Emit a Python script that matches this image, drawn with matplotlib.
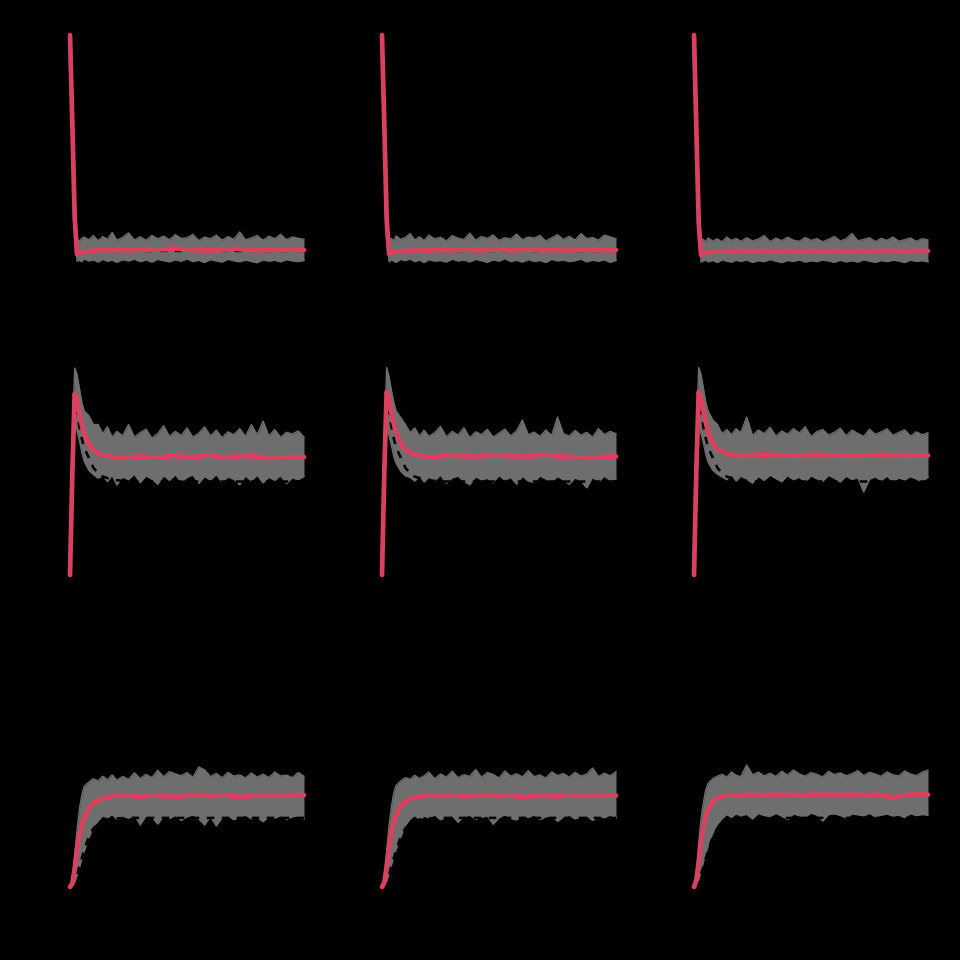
import numpy as np
import matplotlib
matplotlib.use("Agg")
import matplotlib.pyplot as plt

# time points for the grey simulation envelope
t_band = [0, 1, 2, 3, 4, 5, 6, 8, 10, 12, 14, 16, 18, 20,
          22.5, 25, 27.5, 30, 32.5, 35, 37.5, 40,
          42.5, 45, 47.5, 50, 52.5, 55, 57.5, 60,
          62.5, 65, 67.5, 70, 72.5, 75, 77.5, 80,
          82.5, 85, 87.5, 90, 92.5, 95, 97.5, 100]

# time points for the mean / model lines
t_mean = [0, 1, 2, 3, 4, 5, 6, 8, 10, 13,
          16, 20, 25, 30, 35, 40, 45, 50, 55,
          60, 65, 70, 75, 80, 85, 90, 95, 100]

# ---- row 1 ----
r1c1_upper = [100, 68, 28, 10.5, 9.6, 10.8, 11.4, 10.2, 12.0, 9.8, 11.6, 10.4, 13.4, 10.0,
              11.2, 13.2, 10.1, 11.5, 9.9, 12.1, 10.6, 11.8,
              10.2, 12.4, 10.8, 11.0, 12.6, 9.8, 11.4, 10.6,
              12.2, 10.0, 11.6, 10.4, 13.6, 10.2, 11.0, 12.0,
              10.0, 11.8, 10.6, 12.6, 10.2, 11.4, 10.8, 10.4]
r1c1_lower = [100, 55, 14, 0.8, 1.2, 0.6, 1.8, 0.9, 1.4, 0.4, 1.6, 0.8, 1.2, 0.3,
              1.5, 0.9, 1.7, 0.6, 1.3, 0.4, 1.6, 1.0,
              0.5, 1.4, 0.8, 1.8, 0.6, 1.2, 0.2, 1.5,
              0.9, 0.4, 1.6, 1.0, 0.5, 1.3, 0.7, 0.1,
              1.4, 0.8, 1.2, 0.5, 1.5, 0.9, 0.6, 1.1]
r1c1_mean = [100, 61, 20, 3.9, 4.3, 4.7, 5.0, 5.2, 5.4, 5.6,
             5.6, 5.7, 5.6, 5.7, 5.9, 6.0, 6.4, 5.8, 5.6,
             5.5, 5.7, 6.3, 5.8, 5.6, 5.7, 5.8, 5.7, 5.7]

r1c2_upper = [100, 67, 27, 10.2, 10.8, 9.6, 11.9, 10.4, 11.2, 12.9, 10.1, 11.5, 9.8, 12.2,
              10.6, 11.3, 9.7, 12.0, 10.9, 10.3, 13.1, 10.0,
              11.6, 10.8, 12.3, 9.9, 11.1, 10.5, 12.7, 10.2,
              11.4, 10.9, 12.1, 9.6, 11.0, 12.4, 10.3, 11.7,
              10.1, 12.9, 10.7, 11.2, 10.0, 12.2, 11.5, 10.6]
r1c2_lower = [100, 54, 13, 0.5, 1.4, 0.9, 0.3, 1.6, 1.0, 1.8, 0.6, 1.3, 0.2, 1.5,
              0.8, 1.1, 0.4, 1.7, 0.9, 1.3, 0.5, 1.6,
              1.0, 0.3, 1.4, 0.8, 1.9, 0.6, 1.2, 0.4,
              1.5, 0.7, 1.1, 0.2, 1.6, 0.9, 1.3, 0.6,
              1.0, 1.7, 0.5, 1.2, 0.8, 1.4, 0.3, 1.1]
r1c2_mean = [100, 60, 19, 4.0, 4.4, 4.8, 5.0, 5.2, 5.3, 5.5,
             5.6, 5.5, 5.7, 5.6, 5.8, 5.6, 5.7, 5.9, 5.6,
             5.7, 5.8, 5.6, 5.7, 5.5, 5.8, 5.7, 5.6, 5.7]

r1c3_upper = [100, 66, 26, 9.8, 10.4, 9.2, 11.0, 9.6, 10.6, 9.3, 11.4, 9.9, 10.8, 9.5,
              11.1, 9.7, 10.5, 12.0, 9.4, 10.9, 9.8, 11.3,
              10.0, 9.5, 11.2, 9.9, 10.7, 9.3, 10.4, 11.6,
              9.7, 10.6, 13.0, 9.8, 10.3, 11.1, 9.4, 10.8,
              9.9, 11.4, 9.6, 10.2, 11.0, 9.5, 10.7, 10.1]
r1c3_lower = [100, 53, 12, 0.4, 0.9, 1.3, 0.5, 1.1, 0.2, 1.4, 0.8, 0.4, 1.2, 0.7,
              1.3, 0.3, 1.0, 0.6, 1.5, 0.8, 0.2, 1.1,
              0.7, 1.4, 0.4, 1.0, 0.6, 1.3, 0.9, 0.3,
              1.2, 0.5, 1.0, 0.4, 1.4, 0.8, 0.3, 1.1,
              0.6, 1.2, 0.9, 0.2, 1.3, 0.7, 1.0, 0.5]
r1c3_mean = [100, 59, 18, 3.6, 4.0, 4.4, 4.7, 4.9, 5.0, 5.2,
             5.2, 5.3, 5.2, 5.3, 5.2, 5.3, 5.2, 5.3, 5.2,
             5.3, 5.2, 5.3, 5.2, 5.3, 5.3, 5.2, 5.3, 5.3]

r1_model = [100, 60, 18, 4.8, 5.0, 5.1, 5.2, 5.2, 5.3, 5.3,
            5.3, 5.3, 5.3, 5.3, 5.3, 5.3, 5.3, 5.3, 5.3,
            5.3, 5.3, 5.3, 5.3, 5.3, 5.3, 5.3, 5.3, 5.3]

# ---- row 2 ----
r2c1_upper = [0, 60, 90.8, 88, 82, 76, 72, 70, 66, 66, 62, 65, 60.5, 63,
              61, 66, 60.5, 62.5, 64, 60, 62, 65.5,
              60.8, 63, 61.2, 64.5, 60.5, 62.2, 65, 61,
              63.5, 60.2, 62.8, 61.5, 64.2, 60.8, 66, 61.5,
              67.5, 61, 63.8, 60.4, 62.6, 61.8, 63.2, 60.5]
r2c1_lower = [0, 30, 68, 63, 59, 54, 50, 46, 44, 42.5, 43.5, 41, 43.8, 39.5,
              43, 41.8, 44.2, 40.5, 43.5, 42, 39.8, 43.6,
              41.5, 44, 40.8, 42.8, 43.9, 40.2, 43.2, 41.6,
              44.1, 40.6, 43, 42, 39.6, 43.5, 41.2, 43.8,
              40.4, 42.9, 41.5, 43.6, 40.1, 42.6, 41.8, 43.2]
r2c1_mean = [0, 45, 79.5, 77, 71, 66, 62, 57.5, 54.8, 53,
             52.2, 51.3, 51.6, 52.0, 51.5, 51.8, 52.3, 51.6, 51.9,
             52.4, 51.7, 51.8, 52.3, 51.9, 51.6, 51.5, 51.8, 51.7]

r2c2_upper = [0, 62, 91, 87, 81, 76, 72, 69, 66, 62.5, 64.5, 61, 63.5, 60.8,
              62.4, 65.2, 60.6, 63, 61.4, 64.6, 60.2, 62.8,
              61.6, 63.9, 60.5, 62.2, 64, 61, 63.2, 68,
              61.5, 62.7, 60.8, 63.6, 61.2, 69.3, 62, 60.9,
              63.4, 61.3, 62.6, 60.4, 64.2, 61.6, 63, 62]
r2c2_lower = [0, 28, 66, 61, 57, 52, 49, 45.5, 43.5, 42.8, 41.2, 43.6, 40.8, 42.9,
              41.4, 43.8, 40.2, 42.6, 43.4, 41, 39.6, 43.1,
              41.8, 42.4, 40.4, 43.7, 41.6, 42.8, 39.9, 43.3,
              41.2, 40.6, 43.5, 42.1, 40.9, 43.2, 41.7, 39.8,
              42.6, 41.3, 38.2, 42.9, 40.7, 43.4, 41.5, 42.2]
r2c2_mean = [0, 46, 80.3, 77.5, 71.5, 66.5, 62.5, 57.8, 55, 53.2,
             52.4, 51.6, 52.0, 52.3, 52.1, 51.8, 52.2, 52.4, 52.0,
             51.9, 52.1, 52.5, 52.0, 51.8, 51.6, 51.4, 51.9, 52.0]

r2c3_upper = [0, 61, 91, 88, 82, 76, 72, 68, 66, 62, 63.8, 61.5, 64.2, 62.4,
              69.3, 61.2, 63.6, 62, 64.8, 60.9, 63.1, 61.8,
              64.2, 62.3, 65, 60.7, 62.9, 63.8, 61.4, 62.6,
              64.4, 61, 63.5, 62.1, 60.8, 63.9, 61.7, 62.8,
              64.1, 61.2, 62.5, 63.7, 60.9, 62.8, 61.5, 62.4]
r2c3_lower = [0, 29, 67, 62, 58, 53, 49.5, 46, 44.2, 43, 41.8, 43.9, 41.2, 43.4,
              42, 40.3, 43.2, 41.5, 43.8, 42.3, 40.9, 43.6,
              41.8, 42.9, 40.6, 43.5, 42.2, 41.1, 43.7, 42.4,
              40.8, 43.3, 41.9, 42.7, 36.4, 42, 43.1, 41.4,
              43.4, 40.9, 42.6, 41.7, 43.2, 42.1, 40.8, 42.9]
r2c3_mean = [0, 46, 80.3, 77.5, 72, 67, 63, 58, 55.3, 53.5,
             52.8, 52.2, 52.6, 52.8, 52.6, 52.5, 52.4, 52.7, 52.6,
             52.5, 52.4, 52.3, 52.5, 52.7, 52.6, 52.4, 52.5, 52.4]

r2_model = [0, 45, 79.5, 72, 65, 60, 56, 51.5, 47, 43.5,
            42.5, 41.6, 41.0, 41.0, 41.0, 41.0, 41.0, 41.0, 41.0,
            41.0, 41.0, 41.0, 41.0, 41.0, 41.0, 41.0, 41.0, 41.0]

# ---- row 3 ----
r3c1_upper = [0, 4, 14, 25, 34, 40, 44, 46, 47.5, 46.5, 48.6, 47, 49.2, 46.8,
              48.5, 47.2, 50.1, 47.6, 49.4, 48, 51.2, 48.3,
              50.6, 49.6, 48.8, 50.2, 48.1, 52.6, 51.4, 48.4,
              49.8, 47.9, 50.3, 48.6, 49.2, 47.8, 50, 48.2,
              49.5, 48, 50.4, 48.7, 49.1, 47.9, 50.2, 48.6]
r3c1_lower = [0, 0.5, 2, 5, 8.5, 12, 15.5, 21.5, 26.5, 29, 31.2, 30.4, 31.8, 29.8,
              31, 30.2, 31.5, 27.2, 31.2, 30.6, 27.6, 31,
              30, 31.4, 29.2, 30.8, 31.6, 29.8, 27.2, 30.9,
              26.8, 30.4, 31.3, 29.5, 30.7, 31.5, 29.9, 30.6,
              28.6, 31, 30.2, 31.4, 29.7, 30.8, 31.2, 29.8]
r3c1_mean = [0, 1.5, 8, 16, 23, 27, 30, 34.5, 36.8, 38.4,
             39.4, 40.2, 40, 39.6, 40.1, 39.8, 39.5, 40, 40.3,
             39.9, 40.2, 39.7, 39.6, 40.1, 40.3, 39.9, 40.4, 40.3]

r3c2_upper = [0, 4.5, 16, 27, 35, 41, 44.5, 46.5, 48, 47.2, 49, 47.6, 48.8, 50.4,
              47.5, 49.6, 48.2, 50.8, 47.9, 49.3, 48.5, 51.6,
              48.1, 50.2, 49.4, 47.8, 50.9, 48.6, 49.7, 48.3,
              51, 48.4, 49.2, 47.7, 50.5, 48.9, 49.8, 48.2,
              50.3, 48.7, 49.5, 52.2, 48.4, 49.9, 48.8, 50.6]
r3c2_lower = [0, 0.6, 2.5, 6, 9.5, 13, 16.5, 22, 27, 29.8, 31.4, 29.6, 31.1, 30.3,
              31.6, 29.5, 30.8, 31.3, 28.4, 30.9, 31.5, 29.7,
              30.6, 31.2, 27.5, 30.4, 31.7, 30.1, 29.4, 31.3,
              30.5, 31.6, 29.6, 30.8, 31.2, 28.8, 30.7, 31.4,
              29.9, 30.6, 31.3, 29.2, 31, 30.4, 31.5, 30.2]
r3c2_mean = [0, 2, 9, 17.5, 24, 28.5, 31.5, 35.5, 37.5, 39,
             39.7, 40.1, 39.9, 40.2, 39.7, 40.0, 40.3, 39.8, 40.1,
             39.4, 39.9, 40.0, 39.7, 40.2, 40.1, 39.9, 40.2, 40.1]

r3c3_upper = [0, 5, 19, 30, 37, 42.5, 45.5, 47.5, 48.6, 49.4, 48.2, 50.5, 49, 48.4,
              53.5, 49.2, 50.4, 48.7, 49.9, 48.5, 50.8, 49.1,
              51.3, 49.6, 48.6, 50.2, 49.4, 48.3, 50.7, 49.3,
              50.1, 48.8, 49.7, 51, 48.9, 50.3, 49.5, 48.6,
              50.5, 49.2, 48.7, 50.9, 49.6, 48.8, 50.4, 51.2]
r3c3_lower = [0, 0.8, 3, 7, 11, 14.5, 18, 23.5, 27.5, 30, 31.8, 30.6, 32.1, 31.2,
              31.9, 29.8, 32.2, 31.4, 30.9, 32.3, 31.1, 29.6,
              32, 31.3, 30.7, 32.4, 31.6, 28.9, 31.8, 32.1,
              31.4, 30.3, 32, 31.7, 31.2, 32.3, 30.8, 31.5,
              32.1, 31, 31.6, 30.4, 32.2, 31.3, 31.8, 31.5]
r3c3_mean = [0, 3, 11, 20, 26.5, 31, 34, 37.5, 39, 40,
             40.2, 40.3, 40.4, 40.3, 40.5, 40.4, 40.3, 40.4, 40.5,
             40.4, 40.5, 40.4, 40.3, 40.5, 39.2, 40.3, 40.6, 40.5]

r3_model = [0, 1, 3, 5.5, 9, 12.5, 16, 22, 25.8, 28.5,
            29.6, 30.1, 30.3, 30.3, 30.3, 30.3, 30.3, 30.3, 30.3,
            30.3, 30.3, 30.3, 30.3, 30.3, 30.3, 30.3, 30.3, 30.3]

panels = [
    [(r1c1_upper, r1c1_lower, r1c1_mean, r1_model),
     (r1c2_upper, r1c2_lower, r1c2_mean, r1_model),
     (r1c3_upper, r1c3_lower, r1c3_mean, r1_model)],
    [(r2c1_upper, r2c1_lower, r2c1_mean, r2_model),
     (r2c2_upper, r2c2_lower, r2c2_mean, r2_model),
     (r2c3_upper, r2c3_lower, r2c3_mean, r2_model)],
    [(r3c1_upper, r3c1_lower, r3c1_mean, r3_model),
     (r3c2_upper, r3c2_lower, r3c2_mean, r3_model),
     (r3c3_upper, r3c3_lower, r3c3_mean, r3_model)],
]

grey = "#6e6e6e"
red = "#d9415f"


def draw_panel(ax, upper, lower, mean, model):
    ax.fill_between(t_band, lower, upper, color=grey, lw=0, clip_on=False)
    ax.plot(t_band, upper, color=grey, lw=1.0, clip_on=False)
    ax.plot(t_band, lower, color=grey, lw=1.0, clip_on=False)
    ax.plot(t_mean, model, color="black", lw=1.8, ls=(0, (3, 3)), clip_on=False)
    ax.plot(t_mean, mean, color=red, lw=3.4, clip_on=False,
            solid_joinstyle="round", solid_capstyle="round")
    ax.set_xlim(0, 100)
    ax.set_ylim(0, 100)
    ax.axis("off")


W = 960.0
fig = plt.figure(figsize=(9.6, 9.6), dpi=100, facecolor="black")

for r in range(3):
    for c in range(3):
        left = 70 + 312 * c
        bottom = 263 + 312 * r
        ax = fig.add_axes([left / W, 1 - bottom / W, 234 / W, 228 / W])
        ax.set_facecolor("black")
        draw_panel(ax, *panels[r][c])

fig.savefig("out.png", dpi=100, facecolor="black")
